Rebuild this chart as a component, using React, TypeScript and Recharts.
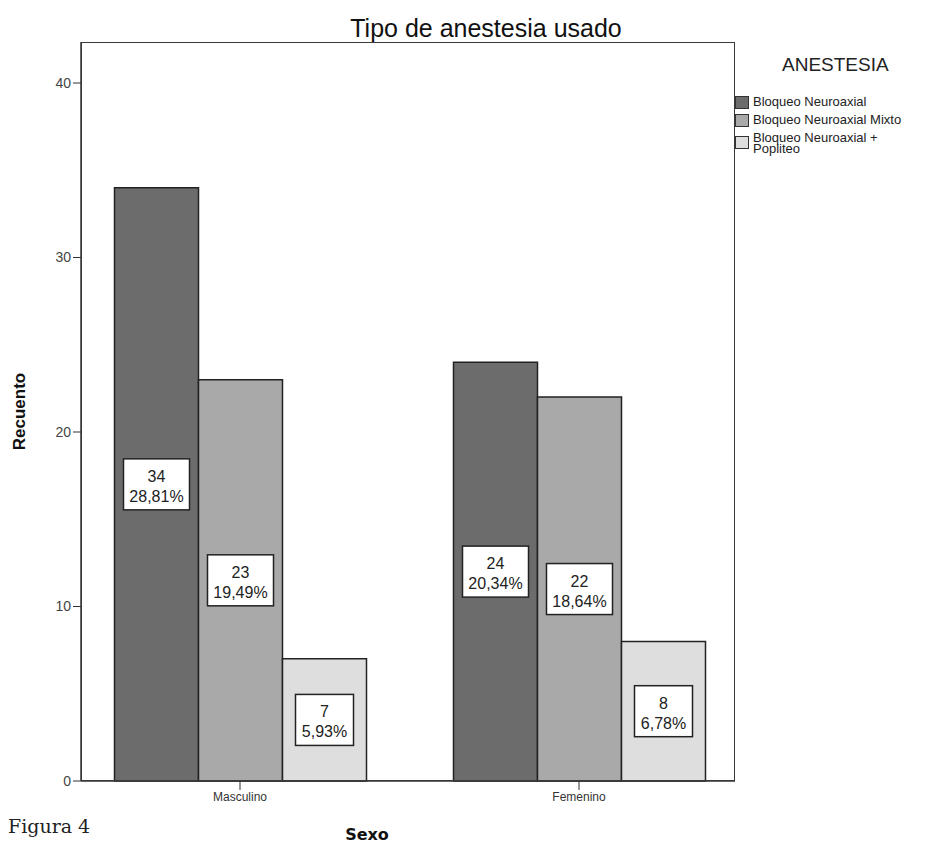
import React from 'react';
import { BarChart, Bar, XAxis, YAxis, LabelList } from 'recharts';

const categories = ['Masculino', 'Femenino'];
const neuroaxial = [34, 24];
const neuroaxialMixto = [23, 22];
const neuroaxialPopliteo = [7, 8];
const yTicks = [0, 10, 20, 30, 40];

const series = [
  { key: 'neuroaxial', name: 'Bloqueo Neuroaxial', fill: '#6c6c6c', values: neuroaxial },
  { key: 'mixto', name: 'Bloqueo Neuroaxial Mixto', fill: '#a9a9a9', values: neuroaxialMixto },
  { key: 'popliteo', name: 'Bloqueo Neuroaxial +\nPopliteo', fill: '#dedede', values: neuroaxialPopliteo },
];

const data = categories.map((sexo, i) => ({
  sexo,
  neuroaxial: neuroaxial[i],
  mixto: neuroaxialMixto[i],
  popliteo: neuroaxialPopliteo[i],
}));

const total = [...neuroaxial, ...neuroaxialMixto, ...neuroaxialPopliteo].reduce((a, b) => a + b, 0);

const FONT = '"Liberation Sans", Arial, sans-serif';

// white box with count + percentage in the middle of each bar
const ValueBox = (props: any) => {
  const { x, y, width, height, value } = props;
  if (value == null) return null;
  const cx = Number(x) + Number(width) / 2;
  const cy = Number(y) + Number(height) / 2;
  const pct = ((Number(value) / total) * 100).toFixed(2).replace('.', ',') + '%';
  const w = pct.length * 8 + 18;
  const h = 51;
  return (
    <g>
      <rect x={cx - w / 2} y={cy - h / 2} width={w} height={h} fill="#fff" stroke="#222" strokeWidth={1.5} />
      <text x={cx} y={cy - 8} textAnchor="middle" dominantBaseline="central" fontSize={16} fontFamily={FONT} fill="#222">
        {value}
      </text>
      <text x={cx} y={cy + 12} textAnchor="middle" dominantBaseline="central" fontSize={16} fontFamily={FONT} fill="#222">
        {pct}
      </text>
    </g>
  );
};

const LegendBox = () => (
  <div style={{ position: 'absolute', left: 735, top: 54, width: 215, fontFamily: FONT, color: '#222' }}>
    <div style={{ marginLeft: 47, fontSize: 19, lineHeight: '22px', marginBottom: 20 }}>ANESTESIA</div>
    {series.map((s) => (
      <div key={s.key} style={{ display: 'flex', alignItems: 'flex-start', marginBottom: 5 }}>
        <div
          style={{
            width: 12,
            height: 11,
            background: s.fill,
            border: '1px solid #333',
            marginRight: 4,
            marginTop: s.key === 'popliteo' ? 4 : 0,
            flexShrink: 0,
          }}
        />
        <div style={{ fontSize: 13, lineHeight: '11px', whiteSpace: 'pre' }}>{s.name}</div>
      </div>
    ))}
  </div>
);

export default function App() {
  return (
    <div style={{ position: 'relative', width: 950, height: 859, margin: -8, background: '#fff' }}>
      <div
        style={{
          position: 'absolute',
          left: 486,
          top: 14,
          transform: 'translateX(-50%)',
          fontFamily: FONT,
          fontSize: 25,
          color: '#111',
          whiteSpace: 'nowrap',
        }}
      >
        Tipo de anestesia usado
      </div>
      <BarChart
        width={950}
        height={859}
        data={data}
        margin={{ top: 42, right: 215, bottom: 0, left: 0 }}
        barGap={0}
        barSize={84}
      >
        <XAxis
          dataKey="sexo"
          padding={{ left: -10.5, right: -13.5 }}
          height={78}
          tickSize={9}
          tick={{ fontSize: 12, fill: '#333', fontFamily: FONT }}
          tickLine={{ stroke: '#333' }}
          axisLine={{ stroke: '#333', strokeWidth: 1.5 }}
          label={{ value: 'Sexo', position: 'center', dx: -41, dy: 14, fontSize: 16, fontWeight: 'bold', fill: '#111', fontFamily: '"DejaVu Sans", sans-serif' }}
        />
        <YAxis
          width={81}
          domain={[0, 42.35]}
          ticks={yTicks}
          tickSize={8}
          tick={{ fontSize: 14, fill: '#444', fontFamily: FONT }}
          tickLine={{ stroke: '#333' }}
          axisLine={{ stroke: '#333', strokeWidth: 1.5 }}
          label={{ value: 'Recuento', angle: -90, position: 'center', dx: -22, fontSize: 17, fontWeight: 'bold', fill: '#111', fontFamily: FONT }}
        />
        {series.map((s) => (
          <Bar key={s.key} dataKey={s.key} name={s.name} fill={s.fill} stroke="#222" strokeWidth={1.5} isAnimationActive={false}>
            <LabelList dataKey={s.key} content={ValueBox} />
          </Bar>
        ))}
      </BarChart>
      <LegendBox />
      <div
        style={{
          position: 'absolute',
          left: 81,
          top: 42,
          width: 654,
          height: 739,
          border: '1.5px solid #3a3a3a',
          boxSizing: 'border-box',
          pointerEvents: 'none',
        }}
      />
      <div
        style={{
          position: 'absolute',
          left: 8,
          top: 815,
          fontFamily: '"DejaVu Serif", serif',
          fontSize: 19,
          color: '#222',
        }}
      >
        Figura 4
      </div>
    </div>
  );
}
